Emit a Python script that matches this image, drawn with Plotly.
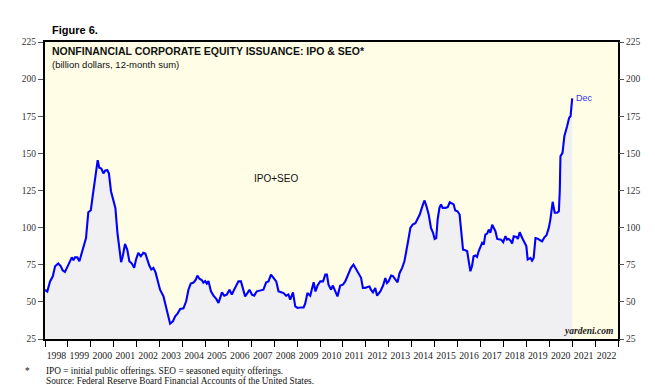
import pandas as pd
import plotly.graph_objects as go

# decimal-year time stamps and 12-month-sum issuance (billion dollars)
years = [
    1998.00, 1998.10, 1998.22, 1998.34, 1998.44, 1998.58, 1998.69, 1998.77, 1998.87, 1998.97,
    1999.09, 1999.17, 1999.24, 1999.31, 1999.41, 1999.50, 1999.60, 1999.70, 1999.79, 1999.89,
    2000.00, 2000.08, 2000.15, 2000.23, 2000.30, 2000.37, 2000.46, 2000.55, 2000.63, 2000.72,
    2000.79, 2000.88, 2000.98, 2001.07, 2001.16, 2001.23, 2001.32, 2001.39, 2001.49, 2001.59,
    2001.68, 2001.79, 2001.89, 2001.97, 2002.07, 2002.18, 2002.29, 2002.38, 2002.47, 2002.55,
    2002.64, 2002.73, 2002.82, 2002.91, 2003.02, 2003.17, 2003.24, 2003.34, 2003.46, 2003.58,
    2003.68, 2003.78, 2003.90, 2004.04, 2004.16, 2004.26, 2004.36, 2004.48, 2004.58, 2004.65,
    2004.74, 2004.84, 2004.91, 2004.99, 2005.06, 2005.13, 2005.24, 2005.35, 2005.47, 2005.57,
    2005.64, 2005.72, 2005.82, 2005.93, 2006.05, 2006.15, 2006.25, 2006.34, 2006.44, 2006.55,
    2006.63, 2006.73, 2006.83, 2006.92, 2007.03, 2007.13, 2007.24, 2007.39, 2007.53, 2007.65,
    2007.75, 2007.86, 2007.97, 2008.09, 2008.19, 2008.29, 2008.41, 2008.52, 2008.62, 2008.70,
    2008.82, 2008.92, 2009.02, 2009.14, 2009.28, 2009.35, 2009.45, 2009.57, 2009.65, 2009.72,
    2009.80, 2009.89, 2010.01, 2010.13, 2010.23, 2010.30, 2010.37, 2010.48, 2010.56, 2010.66,
    2010.76, 2010.88, 2011.00, 2011.10, 2011.24, 2011.35, 2011.46, 2011.58, 2011.68, 2011.79,
    2011.87, 2011.97, 2012.07, 2012.16, 2012.22, 2012.31, 2012.41, 2012.49, 2012.63, 2012.75,
    2012.85, 2012.92, 2012.99, 2013.10, 2013.18, 2013.28, 2013.38, 2013.47, 2013.58, 2013.68,
    2013.76, 2013.84, 2013.94, 2014.04, 2014.16, 2014.26, 2014.35, 2014.49, 2014.56, 2014.64,
    2014.74, 2014.84, 2014.93, 2015.00, 2015.07, 2015.13, 2015.21, 2015.28, 2015.35, 2015.47,
    2015.57, 2015.66, 2015.76, 2015.83, 2015.90, 2016.00, 2016.09, 2016.15, 2016.24, 2016.34,
    2016.42, 2016.49, 2016.56, 2016.63, 2016.70, 2016.78, 2016.85, 2016.92, 2017.00, 2017.07,
    2017.14, 2017.21, 2017.29, 2017.36, 2017.43, 2017.51, 2017.58, 2017.65, 2017.73, 2017.83,
    2017.90, 2017.99, 2018.09, 2018.16, 2018.23, 2018.31, 2018.38, 2018.45, 2018.57, 2018.63,
    2018.71, 2018.82, 2018.92, 2019.00, 2019.06, 2019.18, 2019.25, 2019.32, 2019.40, 2019.50,
    2019.62, 2019.69, 2019.79, 2019.88, 2019.98, 2020.05, 2020.15, 2020.24, 2020.35, 2020.42,
    2020.46, 2020.49, 2020.58, 2020.66, 2020.78, 2020.87, 2020.93, 2021.00,
]
issuance = [
    58.0, 57.0, 63.8, 67.2, 74.0, 75.8, 74.0, 71.3, 70.2, 74.0,
    77.3, 80.0, 78.0, 80.0, 80.0, 77.3, 83.0, 87.4, 93.0, 110.4,
    111.7, 121.0, 130.0, 138.0, 145.4, 140.3, 139.8, 136.5, 138.5, 138.7,
    136.5, 124.5, 117.8, 113.3, 96.5, 88.6, 76.7, 80.7, 89.0, 85.0,
    77.4, 75.8, 72.9, 78.5, 83.0, 80.7, 83.0, 82.5, 77.4, 74.5,
    71.8, 72.9, 70.0, 65.0, 58.2, 53.7, 49.3, 43.6, 35.3, 36.9,
    40.2, 42.0, 45.2, 45.7, 50.4, 58.2, 62.3, 63.0, 65.0, 67.7,
    65.6, 64.7, 63.0, 64.0, 62.3, 64.0, 57.1, 54.2, 52.0, 49.3,
    52.0, 56.4, 54.2, 54.9, 58.2, 54.9, 58.2, 60.5, 63.8, 63.8,
    59.3, 53.7, 55.9, 58.2, 54.9, 54.2, 57.1, 57.8, 58.2, 63.2,
    63.8, 68.4, 66.2, 63.8, 57.1, 56.4, 55.9, 54.2, 55.0, 51.5,
    56.4, 47.0, 45.9, 46.2, 46.3, 48.8, 56.0, 54.2, 59.3, 63.2,
    57.0, 61.0, 63.8, 63.8, 68.4, 68.4, 61.6, 58.2, 61.0, 57.0,
    53.7, 61.0, 61.6, 63.8, 69.5, 72.9, 75.1, 71.7, 68.8, 66.2,
    59.4, 59.4, 60.0, 60.4, 58.2, 56.4, 59.4, 54.2, 57.0, 61.0,
    66.1, 62.7, 63.8, 67.7, 67.3, 65.0, 63.2, 69.5, 72.9, 77.3,
    83.0, 90.8, 99.8, 102.0, 103.0, 106.0, 108.8, 115.6, 118.3, 114.5,
    108.8, 99.8, 96.5, 92.4, 93.0, 105.4, 113.3, 115.6, 113.3, 113.3,
    113.8, 117.1, 116.4, 115.6, 111.5, 111.0, 108.8, 98.7, 85.2, 84.8,
    84.1, 77.3, 70.6, 74.0, 80.7, 81.2, 80.3, 84.1, 87.0, 89.7,
    88.6, 95.3, 96.0, 98.7, 96.5, 102.0, 99.8, 97.6, 92.4, 91.9,
    91.9, 90.2, 94.2, 91.9, 92.4, 91.3, 89.3, 94.2, 93.7, 92.4,
    96.9, 93.0, 90.2, 87.6, 78.5, 79.6, 77.8, 79.6, 93.0, 92.6,
    91.3, 90.8, 93.5, 94.9, 99.8, 105.4, 117.4, 110.0, 110.0, 111.0,
    124.5, 148.1, 150.4, 161.6, 168.3, 174.0, 175.0, 187.0,
]

y_ticks = [25, 50, 75, 100, 125, 150, 175, 200, 225]
y_range = [25, 225]
x_range = ["1998-01-01", "2023-01-01"]


def to_date(t):
    y = int(t)
    return pd.Timestamp(year=y, month=1, day=1) + pd.Timedelta(days=(t - y) * 365.25)


dates = [to_date(t) for t in years]

fig = go.Figure()
fig.add_trace(go.Scatter(
    x=dates, y=issuance, mode="lines",
    line=dict(color="#0000FF", width=2.1),
    fill="tozeroy", fillcolor="#F0F0F2",
    hoverinfo="x+y", showlegend=False,
))
# invisible trace to carry the right-hand axis
fig.add_trace(go.Scatter(
    x=[dates[0], dates[-1]], y=[issuance[0], issuance[-1]], yaxis="y2",
    mode="lines", line=dict(width=0), opacity=0, hoverinfo="skip", showlegend=False,
))

tick_font = dict(family="Liberation Serif, Times New Roman, serif", size=9.5, color="#333")
fig.update_layout(
    width=655, height=385,
    margin=dict(l=45, r=37, t=42, b=46),
    paper_bgcolor="white",
    plot_bgcolor="#FFFDE6",
    xaxis=dict(
        type="date", range=x_range, dtick="M12", tickformat="%Y",
        ticklabelmode="period", ticks="outside", ticklen=6, tickcolor="#000",
        tickwidth=1.2, showgrid=False, zeroline=False,
        showline=True, linecolor="#000", linewidth=2, mirror=True,
        tickfont=dict(family="Liberation Serif, Times New Roman, serif", size=9.8, color="#222"),
    ),
    yaxis=dict(
        range=y_range, tickvals=y_ticks, ticks="outside", ticklen=5,
        tickcolor="#555", showgrid=False, zeroline=False,
        showline=True, linecolor="#000", linewidth=2, mirror=True,
        tickfont=tick_font,
    ),
    yaxis2=dict(
        range=y_range, tickvals=y_ticks, overlaying="y", side="right",
        ticks="outside", ticklen=5, tickcolor="#555", showgrid=False,
        zeroline=False, showline=False, tickfont=tick_font,
    ),
    font=dict(family="Liberation Sans, Arial, sans-serif", color="#111"),
)

ann = []
ann.append(dict(text="<b>Figure 6.</b>", xref="paper", yref="paper", x=0.008, y=1.0,
                yshift=4, xanchor="left", yanchor="bottom", showarrow=False,
                font=dict(size=11, family="Liberation Sans, Arial, sans-serif", color="#000")))
ann.append(dict(text="<b>NONFINANCIAL CORPORATE EQUITY ISSUANCE: IPO & SEO*</b>",
                xref="paper", yref="paper", x=0.008, y=1.0, yshift=-1,
                xanchor="left", yanchor="top", showarrow=False,
                font=dict(size=10.5, color="#111")))
ann.append(dict(text="(billion dollars, 12-month sum)",
                xref="paper", yref="paper", x=0.008, y=1.0, yshift=-15,
                xanchor="left", yanchor="top", showarrow=False,
                font=dict(size=9.5, color="#111")))
ann.append(dict(text="IPO+SEO", xref="x", yref="y", x="2008-02-01", y=133,
                showarrow=False, font=dict(size=10, color="#111")))
ann.append(dict(text="Dec", xref="x", yref="y", x=dates[-1], y=issuance[-1],
                xanchor="left", yanchor="middle", xshift=2, showarrow=False,
                font=dict(size=9, color="#3333FF")))
ann.append(dict(text="<b><i>yardeni.com</i></b>", xref="paper", yref="paper",
                x=0.995, y=0.0, yshift=1, xanchor="right", yanchor="bottom", showarrow=False,
                font=dict(size=9.5, family="Liberation Serif, Times New Roman, serif", color="#222")))
foot_font = dict(size=9.3, family="Liberation Serif, Times New Roman, serif", color="#111")
ann.append(dict(text="*", xref="paper", yref="paper", x=-0.022, y=0, yshift=-25,
                xanchor="right", yanchor="top", showarrow=False, font=foot_font))
ann.append(dict(text="IPO = initial public offerings. SEO = seasoned equity offerings.",
                xref="paper", yref="paper", x=-0.002, y=0, yshift=-25,
                xanchor="left", yanchor="top", align="left", showarrow=False, font=foot_font))
ann.append(dict(text="Source: Federal Reserve Board Financial Accounts of the United States.",
                xref="paper", yref="paper", x=-0.002, y=0, yshift=-35,
                xanchor="left", yanchor="top", align="left", showarrow=False, font=foot_font))
fig.update_layout(annotations=ann)

fig.write_html(
    "out.html",
    config={"displayModeBar": False},
    post_script="document.body.style.margin='0';document.body.style.overflow='hidden';",
)
